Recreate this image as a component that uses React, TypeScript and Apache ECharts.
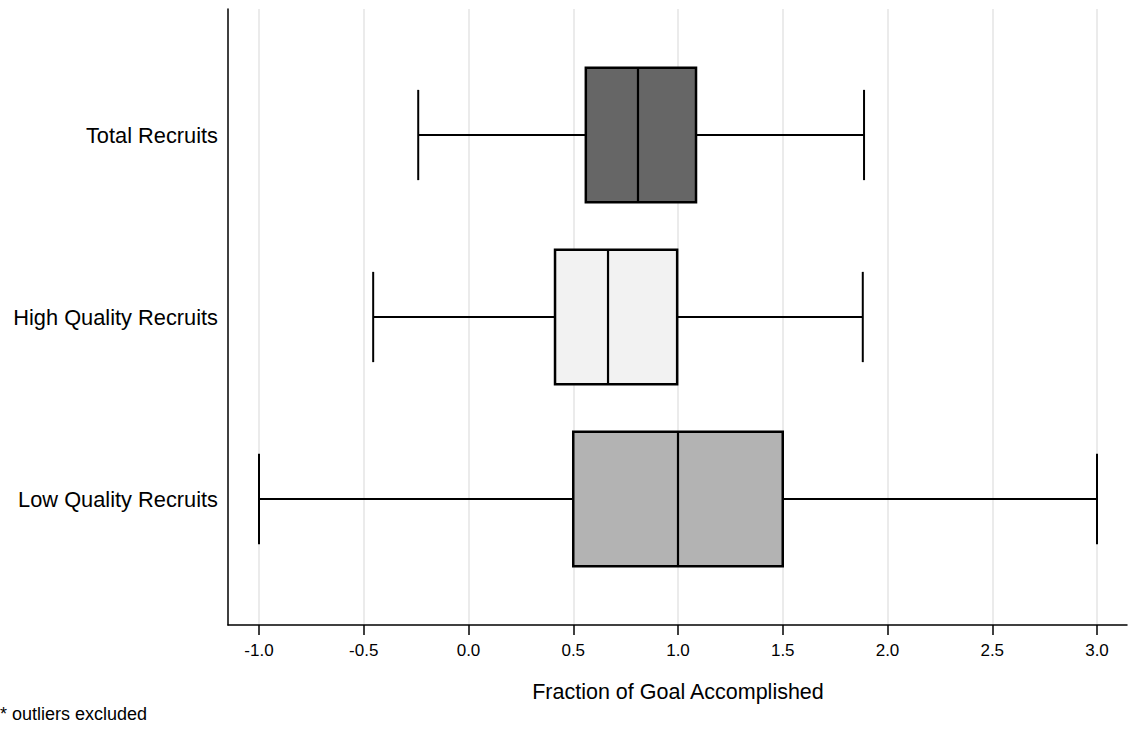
import React, { useEffect, useRef } from "react";
import * as echarts from "echarts";

// Groups, listed top to bottom
const categories = ["Total Recruits", "High Quality Recruits", "Low Quality Recruits"];
// Five-number summaries (outliers excluded)
const lowerWhisker = [-0.24, -0.455, -1.0];
const lowerQuartile = [0.56, 0.413, 0.5];
const medians = [0.809, 0.666, 1.0];
const upperQuartile = [1.086, 0.996, 1.5];
const upperWhisker = [1.888, 1.882, 3.0];
const boxColors = ["#666666", "#f2f2f2", "#b3b3b3"];

const xTickMin = -1.0;
const xTickMax = 3.0;
const xTickStep = 0.5;

const FONT = "'Liberation Sans', Arial, sans-serif";

export default function App() {
  const ref = useRef<HTMLDivElement>(null);

  useEffect(() => {
    if (!ref.current) return;
    const chart = echarts.init(ref.current, null, { renderer: "svg" });

    const boxData = categories.map((_, i) => [
      i,
      lowerWhisker[i],
      lowerQuartile[i],
      medians[i],
      upperQuartile[i],
      upperWhisker[i],
    ]);

    const renderItem = (params: any, api: any) => {
      const cat = api.value(0);
      const lo = api.coord([api.value(1), cat]);
      const q1 = api.coord([api.value(2), cat]);
      const md = api.coord([api.value(3), cat]);
      const q3 = api.coord([api.value(4), cat]);
      const hi = api.coord([api.value(5), cat]);
      const band = api.size([0, 1])[1];
      const boxH = band * 0.738;
      const capH = band * 0.496;
      const y = lo[1];
      const lineStyle = { stroke: "#000", lineWidth: 2 };
      return {
        type: "group",
        children: [
          { type: "line", shape: { x1: lo[0], y1: y, x2: q1[0], y2: y }, style: lineStyle },
          { type: "line", shape: { x1: q3[0], y1: y, x2: hi[0], y2: y }, style: lineStyle },
          { type: "line", shape: { x1: lo[0], y1: y - capH / 2, x2: lo[0], y2: y + capH / 2 }, style: lineStyle },
          { type: "line", shape: { x1: hi[0], y1: y - capH / 2, x2: hi[0], y2: y + capH / 2 }, style: lineStyle },
          {
            type: "rect",
            shape: { x: q1[0], y: y - boxH / 2, width: q3[0] - q1[0], height: boxH },
            style: { fill: boxColors[params.dataIndex], stroke: "#000", lineWidth: 2.5 },
          },
          {
            type: "line",
            shape: { x1: md[0], y1: y - boxH / 2, x2: md[0], y2: y + boxH / 2 },
            style: { stroke: "#000", lineWidth: 2.2 },
          },
        ],
      };
    };

    chart.setOption({
      animation: false,
      backgroundColor: "#fff",
      textStyle: { fontFamily: FONT },
      grid: [
        // frame: the two axis lines
        { left: 228, right: 2, top: 9, bottom: 109 },
        // ticks, tick labels and vertical grid lines
        { left: 259, right: 32, top: 9, bottom: 109 },
        // boxes and category labels
        { left: 259, right: 32, top: 44, bottom: 144 },
      ],
      xAxis: [
        {
          gridIndex: 0,
          type: "value",
          min: 0,
          max: 1,
          axisLine: { show: true, lineStyle: { color: "#000", width: 1.5 } },
          axisTick: { show: false },
          axisLabel: { show: false },
          splitLine: { show: false },
        },
        {
          gridIndex: 1,
          type: "value",
          min: xTickMin,
          max: xTickMax,
          interval: xTickStep,
          axisLine: { show: false },
          axisTick: { show: true, length: 10, lineStyle: { color: "#000", width: 1.5 } },
          axisLabel: {
            show: true,
            margin: 17,
            color: "#000",
            fontSize: 17,
            fontFamily: FONT,
            formatter: (v: number) => v.toFixed(1),
          },
          splitLine: { show: true, lineStyle: { color: "#ebebeb", width: 2 } },
          name: "Fraction of Goal Accomplished",
          nameLocation: "middle",
          nameGap: 56,
          nameTextStyle: { color: "#000", fontSize: 21.5, fontFamily: FONT },
        },
        {
          gridIndex: 2,
          type: "value",
          min: xTickMin,
          max: xTickMax,
          show: false,
        },
      ],
      yAxis: [
        {
          gridIndex: 0,
          type: "value",
          min: 0,
          max: 1,
          axisLine: { show: true, lineStyle: { color: "#000", width: 1.5 } },
          axisTick: { show: false },
          axisLabel: { show: false },
          splitLine: { show: false },
        },
        {
          gridIndex: 1,
          type: "value",
          min: 0,
          max: 1,
          show: false,
        },
        {
          gridIndex: 2,
          type: "category",
          data: categories,
          inverse: true,
          axisLine: { show: false },
          axisTick: { show: false },
          splitLine: { show: false },
          axisLabel: {
            show: true,
            margin: 41,
            color: "#000",
            fontSize: 21.8,
            fontFamily: FONT,
          },
        },
      ],
      series: [
        {
          type: "custom",
          xAxisIndex: 2,
          yAxisIndex: 2,
          clip: false,
          renderItem,
          data: boxData,
          z: 5,
        },
      ],
      graphic: [
        {
          type: "text",
          left: 0,
          top: 705,
          style: { text: "* outliers excluded", fill: "#000", fontSize: 18, fontFamily: FONT },
        },
      ],
    });

    return () => chart.dispose();
  }, []);

  return (
    <div
      ref={ref}
      style={{ position: "fixed", left: 0, top: 0, width: 1129, height: 734 }}
    />
  );
}
